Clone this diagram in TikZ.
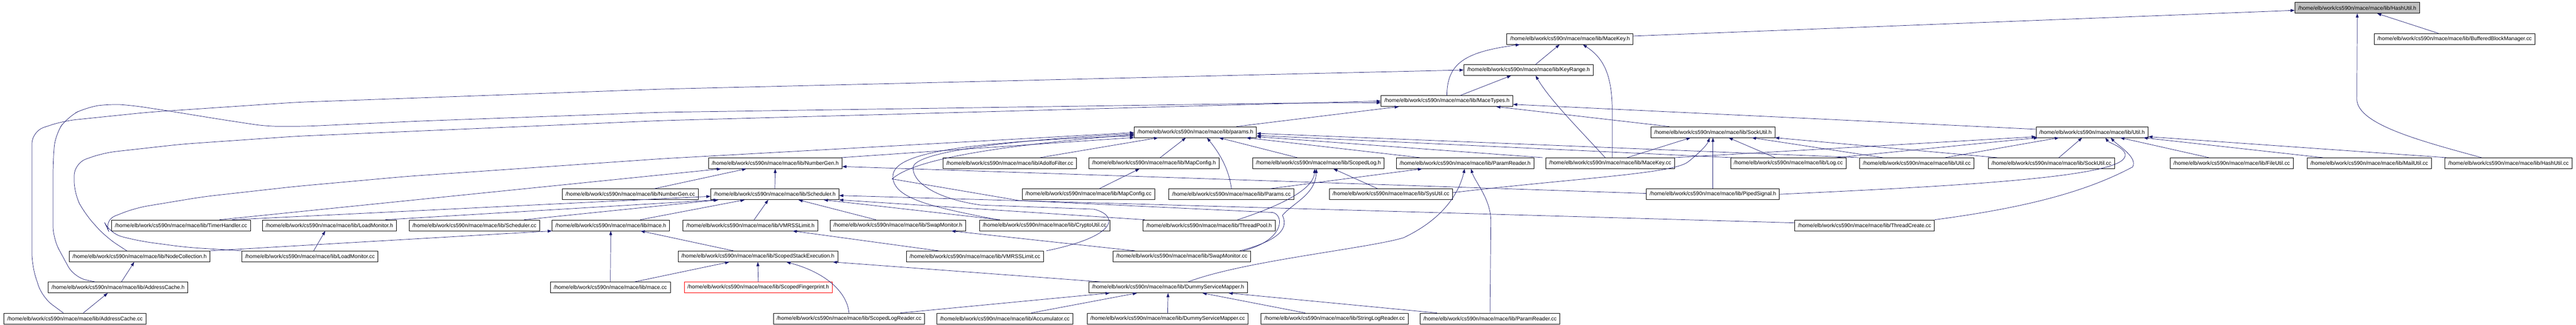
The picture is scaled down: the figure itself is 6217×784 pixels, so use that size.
\documentclass[tikz,border=0pt]{standalone}
\usepackage{fontspec}
\setmainfont{Liberation Sans}
\usetikzlibrary{arrows.meta}
\definecolor{depblue}{RGB}{25,25,112}
\definecolor{rootgray}{RGB}{191,191,191}
\newcommand{\mlib}{/home/elb/work/cs590n/mace/mace/lib/}

\begin{document}
\begin{tikzpicture}[x=1pt, y=-1pt,
    file/.style={draw, fill=white, line width=1pt, minimum height=26pt, inner xsep=8pt, inner ysep=0pt, font=\fontsize{13}{15}\selectfont},
    rootfile/.style={file, fill=rootgray},
    badfile/.style={file, draw=red},
    dep/.style={draw=depblue, line width=0.9pt, -{Triangle[length=10pt,width=7pt]}},
    curvy/.style={dep, rounded corners=30pt}]
    \useasboundingbox (0,0) rectangle (6217,784);

    % Root
    \node[rootfile] (hashutilh) at (5689,19) {\mlib HashUtil.h};
    % Headers
    \node[file] (macekeyh) at (3789,94) {\mlib MaceKey.h};
    \node[file] (bbmcc) at (5924,94) {\mlib BufferedBlockManager.cc};
    \node[file] (keyrangeh) at (3689,169) {\mlib KeyRange.h};
    \node[file] (macetypesh) at (3492,244) {\mlib MaceTypes.h};
    \node[file] (paramsh) at (2885,319) {\mlib params.h};
    \node[file] (sockutilh) at (4134,319) {\mlib SockUtil.h};
    \node[file] (utilh) at (5049,319) {\mlib Util.h};
    % Row 394
    \node[file] (numbergenh) at (1871,394) {\mlib NumberGen.h};
    \node[file] (adolfocc) at (2437,394) {\mlib AdolfoFilter.cc};
    \node[file] (mapconfigh) at (2785,394) {\mlib MapConfig.h};
    \node[file] (scopedlogh) at (3182,394) {\mlib ScopedLog.h};
    \node[file] (paramreaderh) at (3536,394) {\mlib ParamReader.h};
    \node[file] (macekeycc) at (3886,394) {\mlib MaceKey.cc};
    \node[file] (logcc) at (4316,394) {\mlib Log.cc};
    \node[file] (utilcc) at (4626,394) {\mlib Util.cc};
    \node[file] (sockutilcc) at (4951,394) {\mlib SockUtil.cc};
    \node[file] (fileutilcc) at (5386,394) {\mlib FileUtil.cc};
    \node[file] (mailutilcc) at (5718,394) {\mlib MailUtil.cc};
    \node[file] (hashutilcc) at (6054,394) {\mlib HashUtil.cc};
    % Row 469
    \node[file] (numbergencc) at (1521,469) {\mlib NumberGen.cc};
    \node[file] (schedulerh) at (1870,469) {\mlib Scheduler.h};
    \node[file] (mapconfigcc) at (2627,469) {\mlib MapConfig.cc};
    \node[file] (paramscc) at (2972,469) {\mlib Params.cc};
    \node[file] (sysutilcc) at (3357,469) {\mlib SysUtil.cc};
    \node[file] (pipedsignalh) at (4134,469) {\mlib PipedSignal.h};
    % Row 544
    \node[file] (timerhandlercc) at (437,544) {\mlib TimerHandler.cc};
    \node[file] (loadmonitorh) at (795,544) {\mlib LoadMonitor.h};
    \node[file] (schedulercc) at (1145,544) {\mlib Scheduler.cc};
    \node[file] (maceh) at (1474,544) {\mlib mace.h};
    \node[file] (vmrsslimith) at (1811,544) {\mlib VMRSSLimit.h};
    \node[file] (swapmonitorh) at (2167,544) {\mlib SwapMonitor.h};
    \node[file] (cryptoutilcc) at (2521,544) {\mlib CryptoUtil.cc};
    \node[file] (threadpoolh) at (2918,544) {\mlib ThreadPool.h};
    \node[file] (threadcreatecc) at (4500,544) {\mlib ThreadCreate.cc};
    % Row 619
    \node[file] (nodecollectionh) at (337,619) {\mlib NodeCollection.h};
    \node[file] (loadmonitorcc) at (748,619) {\mlib LoadMonitor.cc};
    \node[file] (scopedstackh) at (1829,619) {\mlib ScopedStackExecution.h};
    \node[file] (vmrsslimitcc) at (2353,619) {\mlib VMRSSLimit.cc};
    \node[file] (swapmonitorcc) at (2852,619) {\mlib SwapMonitor.cc};
    % Row 694
    \node[file] (addresscacheh) at (285,694) {\mlib AddressCache.h};
    \node[file] (macecc) at (1473,694) {\mlib mace.cc};
    \node[badfile] (scopedfph) at (1830,694) {\mlib ScopedFingerprint.h};
    \node[file] (dummysmh) at (2819,694) {\mlib DummyServiceMapper.h};
    % Row 769
    \node[file] (addresscachecc) at (181,769) {\mlib AddressCache.cc};
    \node[file] (scopedlogreadercc) at (2049,769) {\mlib ScopedLogReader.cc};
    \node[file] (accumulatorcc) at (2425,769) {\mlib Accumulator.cc};
    \node[file] (dummysmcc) at (2818,769) {\mlib DummyServiceMapper.cc};
    \node[file] (stringlogreadercc) at (3221,769) {\mlib StringLogReader.cc};
    \node[file] (paramreadercc) at (3596,769) {\mlib ParamReader.cc};

    % Into HashUtil.h
    \draw[dep] ([yshift=7]macekeyh.east) -- ([yshift=-6]hashutilh.west);
    \draw[dep] ([xshift=-39]bbmcc.north) -- ([xshift=48]hashutilh.south);
    \draw[dep] ([xshift=-65]hashutilcc.north) .. controls (5840,340) and (5690,300) .. (5688,240) -- (hashutilh.south);
    % Into MaceKey.h and KeyRange.h
    \draw[dep] ([xshift=17]keyrangeh.north) -- ([xshift=-25]macekeyh.south);
    \draw[dep] (macetypesh.north) .. controls (3492,150) and (3540,125) .. ([xshift=-121]macekeyh.south);
    \draw[dep] ([xshift=5]macekeycc.north) -- (3891,270) .. controls (3891,180) and (3870,140) .. ([xshift=31]macekeyh.south);
    \draw[dep] ([xshift=32]macetypesh.north) -- ([xshift=-42]keyrangeh.south);
    \draw[dep] ([xshift=-12]macekeycc.north) .. controls (3800,300) and (3740,240) .. ([xshift=17]keyrangeh.south);
    \draw[curvy] ([xshift=-28]addresscachecc.north) -- (102,718) -- (77,641) -- (77,317) -- (153,292) -- (357,271) -- (714,247) -- (1600,215) -- (3100,179) -- (keyrangeh.west);
    % Into MaceTypes.h
    \draw[curvy] ([xshift=-55]addresscacheh.north) -- (179,670) -- (128,576) -- (128,394) -- (133,325) -- (163,282) -- (209,259) -- (263,251) -- (316,254) -- (408,268) -- (531,288) -- (643,305) -- (735,305) -- (1020,292) -- (1600,271) -- (3100,249) -- ([yshift=-4]macetypesh.west);
    \draw[curvy] ([xshift=-31]nodecollectionh.north) -- (255,572) -- (204,515) -- (179,467) -- (179,394) -- (250,369) -- (439,348) -- (714,329) -- (1600,291) -- (3100,250) -- (macetypesh.west);
    \draw[dep] ([xshift=99]paramsh.north) -- ([xshift=-116]macetypesh.south);
    \draw[dep] ([xshift=-105]sockutilh.north) -- ([xshift=119]macetypesh.south);
    \draw[dep] ([yshift=7]utilh.west) -- ([yshift=-8]macetypesh.east);
    % Into params.h
    \draw[dep] ([xshift=159]numbergenh.north) -- ([yshift=-13]paramsh.west);
    \draw[dep] ([xshift=73]adolfocc.north) -- ([xshift=-90]paramsh.south);
    \draw[dep] ([xshift=15]mapconfigh.north) -- ([xshift=-23]paramsh.south);
    \draw[dep] (paramscc.north) .. controls (2965,400) and (2935,360) .. ([xshift=28]paramsh.south);
    \draw[dep] ([xshift=-51]scopedlogh.north) -- ([xshift=57]paramsh.south);
    \draw[dep] ([xshift=-109]paramreaderh.north) -- ([xshift=-25]paramsh.south east);
    \draw[dep] ([xshift=-163]macekeycc.north) -- ([yshift=-11]paramsh.east);
    \draw[dep] ([xshift=-136]logcc.north) -- ([yshift=-8]paramsh.east);
    \draw[dep] ([xshift=-140]utilcc.north) -- ([yshift=-3]paramsh.east);
    \draw[curvy] ([xshift=-165]loadmonitorcc.north) -- (449,597) -- (337,582) -- (265,564) -- (250,532) -- (327,502) -- (490,475) -- (714,450) -- (980,426) -- (1600,383) -- ([yshift=-1]paramsh.west);
    \draw[dep] ([xshift=-113]cryptoutilcc.north) .. controls (2250,500) and (2160,480) .. (2155,430) .. controls (2150,380) and (2250,345) .. ([yshift=-9]paramsh.west);
    \draw[dep] ([xshift=172]vmrsslimitcc.north) .. controls (2700,570) and (2700,520) .. (2640,505) -- (2367,495) .. controls (2260,480) and (2200,440) .. (2204,403) .. controls (2210,370) and (2400,340) .. ([yshift=-4]paramsh.west);
    \draw[dep] ([xshift=148]swapmonitorcc.north) .. controls (3100,580) and (3100,520) .. (3072,513) -- (2651,493) -- (2459,484) -- (2153,432) .. controls (2190,400) and (2300,360) .. ([yshift=-6]paramsh.west);
    % Into SockUtil.h
    \draw[dep] (pipedsignalh.north) -- (sockutilh.south);
    \draw[dep] ([yshift=4]sysutilcc.east) .. controls (3800,430) and (4040,420) .. (4075,390) .. controls (4100,370) and (4120,350) .. ([xshift=-8]sockutilh.south);
    \draw[dep] ([xshift=41]macekeycc.north) -- ([xshift=-54]sockutilh.south);
    \draw[dep] ([xshift=-32]logcc.north) -- ([xshift=38]sockutilh.south);
    \draw[dep] ([xshift=-82]utilcc.north) -- ([xshift=94]sockutilh.south);
    \draw[dep] ([xshift=-131]sockutilcc.north) -- ([xshift=150]sockutilh.south);
    % Into Util.h
    \draw[dep] (macekeycc.north east) -- ([yshift=-11]utilh.west);
    \draw[dep] ([xshift=116]logcc.north) -- ([xshift=5]utilh.south west);
    \draw[dep] ([xshift=68]utilcc.north) -- ([xshift=-80]utilh.south);
    \draw[dep] ([xshift=18]sockutilcc.north) -- ([xshift=-24]utilh.south);
    \draw[dep] ([xshift=-55]fileutilcc.north) -- ([xshift=68]utilh.south);
    \draw[dep] ([xshift=-112]mailutilcc.north) -- ([xshift=124]utilh.south);
    \draw[dep] ([xshift=4]hashutilcc.north west) -- ([yshift=-11]utilh.east);
    \draw[dep] (pipedsignalh.east) .. controls (4700,450) and (5100,430) .. (5127,381) .. controls (5140,360) and (5090,345) .. ([xshift=32]utilh.south);
    \draw[dep] (threadcreatecc.north east) .. controls (4900,500) and (5040,460) .. (5147,403) .. controls (5160,380) and (5110,350) .. ([xshift=45]utilh.south);
    % Into ScopedLog.h and ParamReader.h
    \draw[dep] ([xshift=-32]sysutilcc.north) -- ([xshift=36]scopedlogh.south);
    \draw[dep] ([xshift=140]swapmonitorcc.north) .. controls (3090,580) and (3110,550) .. (3095,520) .. controls (3120,490) and (3175,470) .. ([xshift=-5]scopedlogh.south);
    \draw[dep] ([xshift=69]threadpoolh.north) .. controls (3080,500) and (3170,460) .. ([xshift=-9]scopedlogh.south);
    \draw[dep] ([xshift=93]paramscc.north) -- ([xshift=-104]paramreaderh.south);
    \draw[dep] ([xshift=48]dummysmh.north) .. controls (3000,630) and (3300,600) .. (3387,574) .. controls (3480,530) and (3520,470) .. ([xshift=-1]paramreaderh.south);
    \draw[dep] (paramreadercc.north) -- (3598,534) .. controls (3598,480) and (3560,440) .. ([xshift=14]paramreaderh.south);
    % Into NumberGen.h, MapConfig.h
    \draw[dep] ([xshift=58]numbergencc.north) -- ([xshift=-70]numbergenh.south);
    \draw[dep] (schedulerh.north) -- (numbergenh.south);
    \draw[dep] ([xshift=93]timerhandlercc.north) -- ([xshift=-131]numbergenh.south);
    \draw[dep] ([yshift=2]pipedsignalh.west) -- ([yshift=-8]numbergenh.east);
    \draw[dep] ([xshift=26]mapconfigcc.north) -- ([xshift=-35]mapconfigh.south);
    % Into Scheduler.h
    \draw[dep] ([xshift=123]timerhandlercc.north) -- ([yshift=-5]schedulerh.west);
    \draw[dep] ([xshift=135]loadmonitorh.north) -- ([xshift=17]schedulerh.south west);
    \draw[dep] ([xshift=120]schedulercc.north) -- ([xshift=19]schedulerh.south west);
    \draw[dep] ([xshift=71]maceh.north) -- ([xshift=-73]schedulerh.south);
    \draw[dep] ([xshift=9]vmrsslimith.north) -- ([xshift=-16]schedulerh.south);
    \draw[dep] ([xshift=-53]swapmonitorh.north) -- ([xshift=57]schedulerh.south);
    \draw[dep] ([xshift=-108]cryptoutilcc.north) -- ([xshift=118]schedulerh.south);
    \draw[dep] ([xshift=-155]threadpoolh.north) -- (schedulerh.south east);
    \draw[dep] ([yshift=6]threadcreatecc.west) -- ([yshift=-3]schedulerh.east);
    % Into mace.h, LoadMonitor.h, VMRSSLimit.h, SwapMonitor.h
    \draw[dep] (macecc.north) -- (maceh.south);
    \draw[dep] ([xshift=-59]scopedstackh.north) -- ([xshift=72]maceh.south);
    \draw[dep] (nodecollectionh.north east) -- (maceh.south west);
    \draw[dep] ([xshift=9]loadmonitorcc.north) -- ([xshift=-10]loadmonitorh.south);
    \draw[dep] ([xshift=-88]vmrsslimitcc.north) -- ([xshift=102]vmrsslimith.south);
    \draw[dep] ([xshift=-113]swapmonitorcc.north) -- ([xshift=129]swapmonitorh.south);
    % Into NodeCollection.h, AddressCache.h
    \draw[dep] ([xshift=8]addresscacheh.north) -- ([xshift=-13]nodecollectionh.south);
    \draw[dep] ([xshift=20]addresscachecc.north) -- ([xshift=-25]addresscacheh.south);
    % Into ScopedStackExecution.h
    \draw[dep] (scopedlogreadercc.north) .. controls (2045,710) and (2000,660) .. ([xshift=69]scopedstackh.south);
    \draw[dep] ([xshift=58]macecc.north) -- ([xshift=-69]scopedstackh.south);
    \draw[dep] (scopedfph.north) -- (scopedstackh.south);
    \draw[dep] ([xshift=-161]dummysmh.north) -- ([xshift=181]scopedstackh.south);
    % Into DummyServiceMapper.h
    \draw[dep] ([xshift=124]scopedlogreadercc.north) -- ([xshift=-141]dummysmh.south);
    \draw[dep] ([xshift=64]accumulatorcc.north) -- ([xshift=-75]dummysmh.south);
    \draw[dep] (dummysmcc.north) -- (dummysmh.south);
    \draw[dep] ([xshift=-71]stringlogreadercc.north) -- ([xshift=83]dummysmh.south);
    \draw[dep] ([xshift=-128]paramreadercc.north) -- ([xshift=146]dummysmh.south);
\end{tikzpicture}
\end{document}
